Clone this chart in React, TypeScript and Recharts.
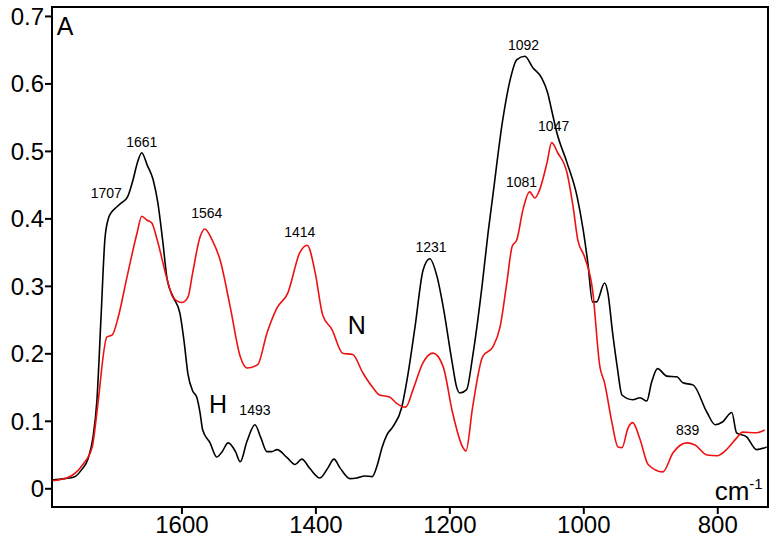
import { Line, LineChart, ReferenceArea, ReferenceDot, XAxis, YAxis } from "recharts";

// spectrum H (black)
const hWavenumbers = [
  1794, 1775, 1760, 1750, 1740, 1733, 1727, 1721, 1715, 1710, 1705, 1697, 1690, 1681, 1673, 1666, 1660,
  1652, 1643, 1636, 1629, 1622, 1613, 1603, 1597, 1591, 1584, 1578, 1573, 1569, 1558, 1548, 1540, 1531,
  1520, 1513, 1503, 1491, 1482, 1473, 1466, 1458, 1443, 1431, 1421, 1409, 1394, 1382, 1373, 1364, 1349,
  1339, 1327, 1316, 1309, 1301, 1294, 1285, 1272, 1264, 1252, 1240, 1230, 1219, 1210, 1197, 1190, 1185,
  1175, 1166, 1152, 1143, 1136, 1121, 1110, 1100, 1088, 1076, 1063, 1054, 1048, 1040, 1025, 1010, 1001,
  994, 987, 981, 969, 964, 957, 950, 943, 927, 916, 906, 899, 890, 876, 861, 852, 837, 816, 804, 793,
  779, 772, 757, 742, 727,
];
const hAbsorbance = [
  0.013, 0.015, 0.018, 0.028, 0.045, 0.075, 0.13, 0.25, 0.37, 0.4, 0.41, 0.418, 0.424, 0.433, 0.458, 0.485,
  0.498, 0.48, 0.458, 0.424, 0.37, 0.31, 0.284, 0.26, 0.22, 0.17, 0.145, 0.136, 0.113, 0.087, 0.068, 0.047,
  0.055, 0.068, 0.055, 0.04, 0.07, 0.095, 0.075, 0.055, 0.055, 0.058, 0.046, 0.036, 0.044, 0.03, 0.016,
  0.031, 0.044, 0.031, 0.015, 0.016, 0.019, 0.018, 0.033, 0.062, 0.08, 0.092, 0.12, 0.161, 0.24, 0.324,
  0.341, 0.314, 0.27, 0.19, 0.151, 0.142, 0.147, 0.196, 0.3, 0.379, 0.433, 0.547, 0.606, 0.636, 0.641,
  0.624, 0.609, 0.587, 0.561, 0.527, 0.483, 0.433, 0.384, 0.335, 0.277, 0.277, 0.305, 0.29, 0.231, 0.18,
  0.139, 0.132, 0.135, 0.13, 0.157, 0.178, 0.167, 0.166, 0.157, 0.154, 0.113, 0.095, 0.099, 0.113, 0.083,
  0.077, 0.058, 0.062,
];

// spectrum N (red)
const nWavenumbers = [
  1794, 1772, 1748, 1734, 1727, 1725, 1712, 1704, 1695, 1682, 1667, 1660, 1652, 1645, 1637, 1622, 1613,
  1600, 1591, 1584, 1573, 1566, 1555, 1543, 1528, 1513, 1503, 1487, 1473, 1458, 1442, 1424, 1413, 1401,
  1390, 1376, 1360, 1345, 1330, 1315, 1305, 1290, 1280, 1266, 1255, 1240, 1225, 1210, 1196, 1181, 1176,
  1166, 1151, 1136, 1125, 1115, 1107, 1100, 1091, 1081, 1073, 1066, 1055, 1048, 1039, 1025, 1016, 1009,
  999, 987, 976, 969, 958, 949, 943, 934, 927, 916, 904, 882, 867, 846, 834, 816, 801, 787, 772, 763, 742,
  730,
];
const nAbsorbance = [
  0.012, 0.016, 0.036, 0.062, 0.113, 0.13, 0.225, 0.228, 0.255, 0.314, 0.379, 0.404, 0.398, 0.394, 0.369,
  0.31, 0.283, 0.276, 0.284, 0.32, 0.373, 0.385, 0.369, 0.339, 0.27, 0.196, 0.179, 0.184, 0.231, 0.268,
  0.29, 0.35, 0.361, 0.32, 0.258, 0.236, 0.201, 0.199, 0.172, 0.15, 0.139, 0.136, 0.127, 0.121, 0.147,
  0.187, 0.201, 0.181, 0.113, 0.062, 0.056, 0.121, 0.196, 0.21, 0.24, 0.305, 0.359, 0.369, 0.413, 0.44,
  0.431, 0.443, 0.483, 0.513, 0.498, 0.468, 0.418, 0.369, 0.344, 0.295, 0.181, 0.157, 0.098, 0.062, 0.061,
  0.09, 0.098, 0.073, 0.036, 0.025, 0.053, 0.068, 0.065, 0.05, 0.049, 0.058, 0.075, 0.084, 0.083, 0.087,
];

const xTicks = [1600, 1400, 1200, 1000, 800];
const yTicks = [0, 0.1, 0.2, 0.3, 0.4, 0.5, 0.6, 0.7];

// peak annotations: text, wavenumber, absorbance of text baseline
const peakLabels = ["1707", "1661", "1564", "1414", "1231", "1092", "1047", "1081", "839", "1493"];
const peakLabelX = [1713, 1660, 1563, 1424, 1228, 1090, 1045, 1093, 845, 1491];
const peakLabelY = [0.431, 0.507, 0.401, 0.373, 0.351, 0.65, 0.53, 0.447, 0.079, 0.11];

const curveNames = ["H", "N"];
const curveNameX = [1546, 1339];
const curveNameY = [0.113, 0.23];

const X_DOMAIN = [725, 1794];
const Y_DOMAIN = [-0.027, 0.714];
const FONT = "'Liberation Sans', Arial, sans-serif";

const hData = hWavenumbers.map((w, i) => ({ w, a: hAbsorbance[i] }));
const nData = nWavenumbers.map((w, i) => ({ w, a: nAbsorbance[i] }));

const textAt = (text: string, size: number, anchor: string = "middle") => (props: any) => (
  <text
    x={props.cx}
    y={props.cy}
    textAnchor={anchor}
    fontSize={size}
    fontFamily={FONT}
    fill="#000"
  >
    {text}
  </text>
);

export default function App() {
  return (
    <div style={{ position: "absolute", left: 0, top: 0, background: "#fff" }}>
      <LineChart
        width={777}
        height={547}
        margin={{ top: 7, right: 9, bottom: 0, left: 0 }}
      >
        <XAxis
          dataKey="w"
          type="number"
          domain={X_DOMAIN}
          reversed
          allowDataOverflow
          ticks={xTicks}
          height={40}
          axisLine={{ stroke: "#000", strokeWidth: 2 }}
          tickLine={{ stroke: "#000", strokeWidth: 2 }}
          tickSize={7}
          tick={{ fill: "#000", fontSize: 24, fontFamily: FONT }}
        />
        <YAxis
          type="number"
          domain={Y_DOMAIN}
          allowDataOverflow
          ticks={yTicks}
          width={52}
          axisLine={{ stroke: "#000", strokeWidth: 2 }}
          tickLine={{ stroke: "#000", strokeWidth: 2 }}
          tickSize={7}
          tickMargin={1}
          tickFormatter={(v: number) => (v === 0 ? "0" : v.toFixed(1))}
          tick={{ fill: "#000", fontSize: 24, fontFamily: FONT }}
        />
        {/* plot frame */}
        <ReferenceArea
          x1={X_DOMAIN[0]}
          x2={X_DOMAIN[1]}
          y1={Y_DOMAIN[0]}
          y2={Y_DOMAIN[1]}
          fill="none"
          fillOpacity={0}
          stroke="#000"
          strokeWidth={2}
          strokeOpacity={1}
          ifOverflow="visible"
        />
        <Line
          data={hData}
          dataKey="a"
          type="monotone"
          stroke="#000"
          strokeWidth={1.6}
          dot={false}
          isAnimationActive={false}
        />
        <Line
          data={nData}
          dataKey="a"
          type="monotone"
          stroke="#ee1111"
          strokeWidth={1.6}
          dot={false}
          isAnimationActive={false}
        />
        {peakLabels.map((t, i) => (
          <ReferenceDot
            key={t}
            x={peakLabelX[i]}
            y={peakLabelY[i]}
            r={0}
            shape={textAt(t, 14)}
          />
        ))}
        {curveNames.map((t, i) => (
          <ReferenceDot
            key={t}
            x={curveNameX[i]}
            y={curveNameY[i]}
            r={0}
            shape={textAt(t, 25)}
          />
        ))}
        <ReferenceDot x={1787} y={0.673} r={0} shape={textAt("A", 25, "start")} />
        <ReferenceDot
          x={733}
          y={-0.016}
          r={0}
          shape={(props: any) => (
            <text
              x={props.cx}
              y={props.cy}
              textAnchor="end"
              fontSize={26}
              fontFamily={FONT}
              fill="#000"
            >
              cm
              <tspan fontSize={15} dy={-11}>
                -1
              </tspan>
            </text>
          )}
        />
      </LineChart>
    </div>
  );
}
